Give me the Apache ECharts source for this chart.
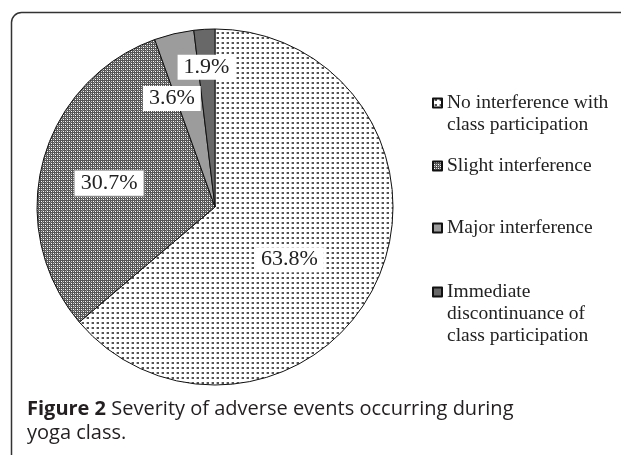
<!DOCTYPE html>
<html>
<head>
<meta charset="utf-8">
<script src="https://cdn.jsdelivr.net/npm/echarts@6/dist/echarts.min.js"></script>
<style>
  html, body { margin: 0; padding: 0; background: #fff; }
  #main { width: 621px; height: 455px; }
</style>
</head>
<body>
<div id="main"></div>
<script>
// data
var categories = [
  "No interference with\nclass participation",
  "Slight interference",
  "Major interference",
  "Immediate\ndiscontinuance of\nclass participation"
];
var percents = [63.8, 30.7, 3.6, 1.9];

// label nudges relative to the default inside position
var labelOffsets = [[-9, 14], [-17, 0], [-22, -19], [-3, -48]];
var legendTops = [91, 154, 216, 280];

function makePattern(size, draw) {
  var c = document.createElement("canvas");
  c.width = size;
  c.height = size;
  var ctx = c.getContext("2d");
  draw(ctx);
  return { image: c, repeat: "repeat" };
}

// white with small dark dots
var dots = makePattern(5, function (ctx) {
  ctx.fillStyle = "#fff";
  ctx.fillRect(0, 0, 5, 5);
  ctx.fillStyle = "#555";
  ctx.fillRect(2, 2, 2, 2);
  ctx.fillStyle = "#bbb";
  ctx.fillRect(1, 2, 1, 2);
});

// dark crosshatch with white specks
var hatch = makePattern(4, function (ctx) {
  ctx.fillStyle = "#555";
  ctx.fillRect(0, 0, 4, 4);
  ctx.fillStyle = "#fff";
  ctx.fillRect(1, 1, 1, 1);
  ctx.fillRect(3, 3, 1, 1);
  ctx.fillStyle = "#c8c8c8";
  ctx.fillRect(1, 3, 1, 1);
  ctx.fillRect(3, 1, 1, 1);
  ctx.fillStyle = "#888";
  ctx.fillRect(2, 2, 1, 1);
});

var fills = [dots, hatch, "#9c9c9c", "#686868"];

var serif = "'Liberation Serif', 'DejaVu Serif', serif";
var sans = "'Open Sans', Lato, sans-serif";
var lineH = 22;

var seriesData = percents.map(function (v, i) {
  return {
    name: categories[i],
    value: v,
    itemStyle: { color: fills[i] },
    label: {
      offset: labelOffsets[i],
      borderColor: i === 1 ? "#999" : "transparent",
      borderWidth: i === 1 ? 1 : 0
    }
  };
});

var legends = categories.map(function (name, i) {
  var lines = name.split("\n").length;
  var h = lines * lineH;
  var top0 = (lineH - 9) / 2;
  return {
    data: [name],
    orient: "vertical",
    left: 432,
    top: legendTops[i],
    padding: 0,
    itemWidth: 9,
    itemHeight: h,
    icon: "path://M0,0M0," + top0 + "h9v9h-9zM0," + h,
    selectedMode: false,
    textStyle: {
      fontFamily: serif,
      fontSize: 19.5,
      color: "#222",
      lineHeight: lineH
    }
  };
});

var chart = echarts.init(document.getElementById("main"));
chart.setOption({
  animation: false,
  backgroundColor: "#fff",
  title: {
    left: 27,
    top: 397,
    padding: 0,
    text: "{b|Figure 2} Severity of adverse events occurring during\nyoga class.",
    textStyle: {
      fontFamily: sans,
      fontSize: 20,
      fontWeight: "normal",
      color: "#231f20",
      lineHeight: 24,
      rich: {
        b: {
          fontFamily: sans,
          fontSize: 20,
          fontWeight: "bold",
          color: "#231f20",
          lineHeight: 24
        }
      }
    }
  },
  legend: legends,
  graphic: [
    {
      type: "rect",
      shape: { x: 11.5, y: 12.5, width: 700, height: 500, r: 10 },
      style: { fill: "none", stroke: "#333", lineWidth: 1.5 },
      silent: true
    }
  ],
  series: [
    {
      type: "pie",
      center: [215, 207],
      radius: 178,
      startAngle: 90,
      clockwise: true,
      avoidLabelOverlap: false,
      itemStyle: { borderColor: "#111", borderWidth: 1 },
      label: {
        show: true,
        position: "inside",
        formatter: "{c}%",
        fontFamily: serif,
        fontSize: 22,
        color: "#222",
        backgroundColor: "#fff",
        padding: [2, 6, 1, 6],
        lineHeight: 22
      },
      labelLine: { show: false },
      emphasis: { disabled: true },
      data: seriesData
    }
  ]
});
</script>
</body>
</html>
